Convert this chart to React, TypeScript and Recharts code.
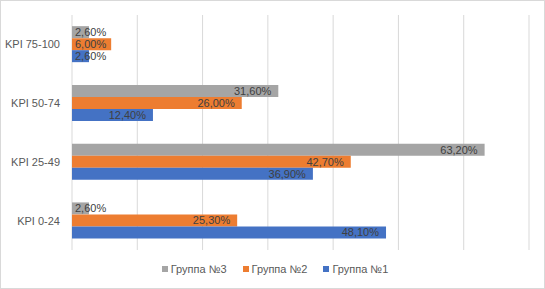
import React from "react";
import {
  Bar,
  BarChart,
  CartesianGrid,
  LabelList,
  Legend,
  XAxis,
  YAxis,
} from "recharts";

const categories = ["KPI 75-100", "KPI 50-74", "KPI 25-49", "KPI 0-24"];
const group1 = [2.6, 12.4, 36.9, 48.1];
const group2 = [6.0, 26.0, 42.7, 25.3];
const group3 = [2.6, 31.6, 63.2, 2.6];
const xTicks = [0, 10, 20, 30, 40, 50, 60, 70];

const series = [
  { key: "g3", name: "Группа №3", color: "#A5A5A5" },
  { key: "g2", name: "Группа №2", color: "#ED7D31" },
  { key: "g1", name: "Группа №1", color: "#4472C4" },
];

const data = categories.map((kpi, i) => ({
  kpi,
  g1: group1[i],
  g2: group2[i],
  g3: group3[i],
}));

const FONT = "'Liberation Sans', Arial, sans-serif";
const fmt = (v: number) => v.toFixed(2).replace(".", ",") + "%";

function ValueLabel(props: any) {
  const { x, y, width, height, value } = props;
  const text = fmt(Number(value));
  const textW = text.length * 6.2;
  const fits = width >= textW + 10;
  return (
    <text
      x={fits ? x + width - 7 : x + 3}
      y={y + height / 2}
      dy="0.36em"
      textAnchor={fits ? "end" : "start"}
      fill="#404040"
      fontSize={11}
      fontFamily={FONT}
    >
      {text}
    </text>
  );
}

function CategoryTick(props: any) {
  const { x, y, payload } = props;
  return (
    <text
      x={x - 10}
      y={y}
      dy="0.36em"
      textAnchor="end"
      fill="#595959"
      fontSize={11}
      fontFamily={FONT}
    >
      {payload.value}
    </text>
  );
}

function LegendContent() {
  return (
    <div
      style={{
        display: "flex",
        justifyContent: "center",
        gap: 16,
        fontFamily: FONT,
        fontSize: 11,
        color: "#595959",
        paddingLeft: 20,
      }}
    >
      {series.map((s) => (
        <div key={s.key} style={{ display: "flex", alignItems: "center" }}>
          <span
            style={{
              display: "inline-block",
              width: 6,
              height: 6,
              background: s.color,
              marginRight: 3,
            }}
          />
          {s.name}
        </div>
      ))}
    </div>
  );
}

export default function App() {
  return (
    <div
      style={{
        position: "fixed",
        left: 0,
        top: 0,
        width: 545,
        height: 289,
        background: "#fff",
        border: "1px solid #D9D9D9",
        boxSizing: "border-box",
      }}
    >
      <BarChart
        width={543}
        height={287}
        data={data}
        layout="vertical"
        margin={{ top: 14, right: 15, bottom: 26, left: 0 }}
        barCategoryGap="19%"
        barGap={0}
      >
        <CartesianGrid stroke="#D9D9D9" horizontal={false} />
        <XAxis type="number" domain={[0, 70]} ticks={xTicks} hide />
        <YAxis
          type="category"
          dataKey="kpi"
          width={71}
          axisLine={false}
          tickLine={false}
          tickSize={0}
          tick={CategoryTick}
        />
        <Legend
          verticalAlign="bottom"
          content={LegendContent}
          wrapperStyle={{ bottom: 13 }}
        />
        {series.map((s) => (
          <Bar
            key={s.key}
            dataKey={s.key}
            name={s.name}
            fill={s.color}
            isAnimationActive={false}
          >
            <LabelList dataKey={s.key} content={ValueLabel} />
          </Bar>
        ))}
      </BarChart>
    </div>
  );
}
